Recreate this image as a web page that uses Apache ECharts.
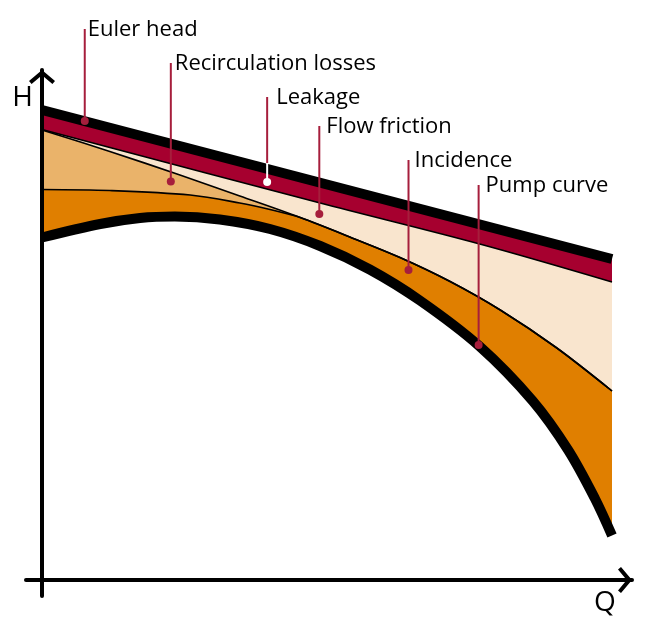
<!DOCTYPE html>
<html>
<head>
<meta charset="utf-8">
<script src="https://cdn.jsdelivr.net/npm/echarts@6/dist/echarts.min.js"></script>
<style>
html,body{margin:0;padding:0;background:#fff;}
#chart{width:646px;height:622px;}
</style>
</head>
<body>
<div id="chart"></div>
<script>
// ---- data: head H versus flow Q (arbitrary units), one boundary curve per loss ----
// Euler head (theoretical, straight line)
const eulerQ = [0, 100];
const eulerH = [94.0, 64.2];
// Euler head minus leakage (bottom of the leakage band)
const leakageQ = [0, 48.8, 76.8, 100];
const leakageH = [90.1, 75.4, 67.2, 59.6];
// minus flow friction (bottom of the friction band)
const frictionQ = [0, 11.9, 24.2, 34.7, 45.3, 54.0, 62.8, 71.6, 80.4, 90.2, 100];
const frictionH = [90.0, 85.7, 81.0, 76.8, 72.5, 68.6, 64.5, 59.7, 54.0, 46.5, 37.8];
// minus recirculation (bottom of the recirculation band; meets friction curve at Q≈45)
const recircQ = [0, 11.9, 26.0, 34.7, 40.0, 45.3, 54.0, 62.8, 71.6, 80.4, 90.2, 100];
const recircH = [78.1, 77.9, 77.0, 75.4, 74.1, 72.5, 68.6, 64.5, 59.7, 54.0, 46.5, 37.8];
// pump curve (after incidence losses)
const pumpQ = [0, 10.2, 17.2, 23.3, 31.2, 40.0, 48.8, 57.5, 66.3, 76.8, 86.1, 92.3, 97.0, 100];
const pumpH = [68.5, 71.2, 72.4, 72.7, 72.1, 70.2, 66.8, 62.1, 55.9, 46.7, 35.8, 26.0, 16.3, 8.9];

// callouts: label, Q position, head at dot, head at top of leader
const calloutNames   = ['Euler head', 'Recirculation losses', 'Leakage', 'Flow friction', 'Incidence', 'Pump curve'];
const calloutFlow    = [7.5, 22.6, 39.5, 48.65, 64.3, 76.6];
const calloutDotHead = [91.8, 79.7, 79.6, 73.2, 62.0, 47.0];
const calloutTopHead = [110.2, 103.4, 96.6, 90.8, 84.0, 79.0];
const leakageWhiteFromHead = 83.4;

const pairs = (qs, hs) => qs.map((q, i) => [q, hs[i]]);

const SMOOTH = 0.33;
const FONT = '"Open Sans", "Noto Sans", sans-serif';
const CALLOUT = '#A61E3C';
const labelDx = {'Euler head': 3, 'Recirculation losses': 4, 'Leakage': 9, 'Flow friction': 7, 'Incidence': 6, 'Pump curve': 7};
const chevron = 'path://M0,11 L13,0 L26,11 L23.4,14 L13,5.3 L2.6,14 Z';

const chart = echarts.init(document.getElementById('chart'), null, {renderer: 'canvas'});

// each boundary fills down to H=0 with the colour of the band below it; drawn top to bottom
function band(name, qs, hs, fill, width) {
  return {
    name, type: 'line', data: pairs(qs, hs), smooth: SMOOTH,
    symbol: 'none', silent: true, z: 2,
    lineStyle: {color: '#000', width: width, cap: 'butt', join: 'round'},
    areaStyle: {color: fill, opacity: 1, origin: 'auto'}
  };
}

const option = {
  animation: false,
  backgroundColor: '#fff',
  grid: {left: 26, right: 14, top: 70, bottom: 26, containLabel: false},
  xAxis: {
    type: 'value', min: -16 / 5.7, max: 590 / 5.7, z: 10,
    axisLine: {onZero: true, lineStyle: {color: '#000', width: 4},
      symbol: ['none', chevron], symbolSize: [26, 14], symbolOffset: [0, -7]},
    axisTick: {show: false}, axisLabel: {show: false}, splitLine: {show: false}
  },
  yAxis: {
    type: 'value', min: -16 / 5, max: 510 / 5, z: 10,
    axisLine: {onZero: true, lineStyle: {color: '#000', width: 4},
      symbol: ['none', chevron], symbolSize: [26, 14], symbolOffset: [0, -7]},
    axisTick: {show: false}, axisLabel: {show: false}, splitLine: {show: false}
  },
  graphic: [
    {type: 'text', x: 22.5, y: 98, z: 20, style: {text: 'H', font: '28px ' + FONT, fill: '#000', align: 'center', verticalAlign: 'middle'}},
    {type: 'text', x: 605, y: 603, z: 20, style: {text: 'Q', font: '28px ' + FONT, fill: '#000', align: 'center', verticalAlign: 'middle'}}
  ],
  series: [
    band('Euler head', eulerQ, eulerH, '#A6002F', 10),
    band('Leakage', leakageQ, leakageH, '#F9E5CE', 1.6),
    band('Flow friction', frictionQ, frictionH, '#EAB36A', 1.6),
    band('Recirculation', recircQ, recircH, '#E07F00', 1.6),
    band('Pump curve', pumpQ, pumpH, '#FFFFFF', 10),
    {
      type: 'custom', z: 20, clip: false, silent: true,
      data: calloutNames.map((n, i) => [calloutFlow[i], calloutDotHead[i], calloutTopHead[i]]),
      renderItem: function (params, api) {
        const i = params.dataIndex;
        const name = calloutNames[i];
        const q = api.value(0);
        const dot = api.coord([q, api.value(1)]);
        const top = api.coord([q, api.value(2)]);
        const children = [];
        if (name === 'Leakage') {
          const mid = api.coord([q, leakageWhiteFromHead]);
          children.push({type: 'line', shape: {x1: top[0], y1: top[1], x2: mid[0], y2: mid[1]}, style: {stroke: CALLOUT, lineWidth: 2}});
          children.push({type: 'line', shape: {x1: mid[0], y1: mid[1], x2: dot[0], y2: dot[1]}, style: {stroke: '#fff', lineWidth: 2}});
          children.push({type: 'circle', shape: {cx: dot[0], cy: dot[1], r: 4}, style: {fill: '#fff'}});
        } else {
          children.push({type: 'line', shape: {x1: top[0], y1: top[1], x2: dot[0], y2: dot[1]}, style: {stroke: CALLOUT, lineWidth: 2}});
          children.push({type: 'circle', shape: {cx: dot[0], cy: dot[1], r: 4}, style: {fill: CALLOUT}});
        }
        children.push({type: 'text', style: {text: name, x: top[0] + labelDx[name], y: top[1] + 0.5,
          font: '22px ' + FONT, fill: '#000', align: 'left', verticalAlign: 'middle'}});
        return {type: 'group', children};
      }
    }
  ]
};
chart.setOption(option);
</script>
</body>
</html>
